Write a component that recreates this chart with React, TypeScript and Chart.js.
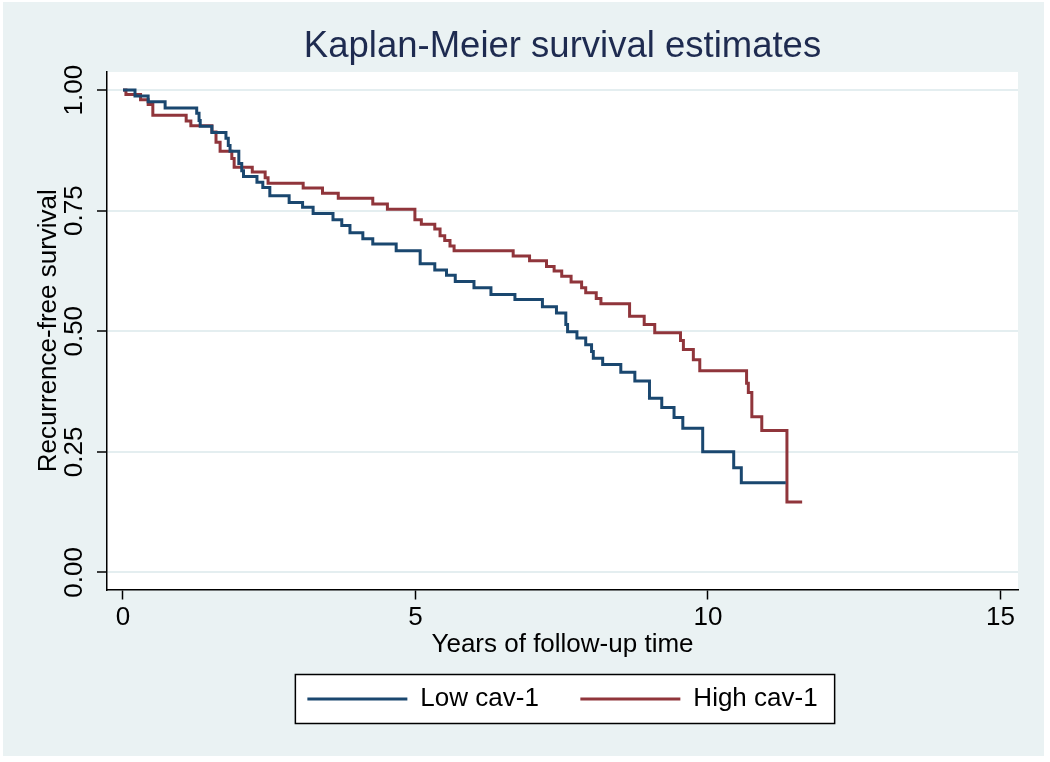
import React, { useEffect, useRef } from "react";
import { Chart, registerables } from "chart.js";

Chart.register(...registerables);

const titleText = "Kaplan-Meier survival estimates";
const xTitle = "Years of follow-up time";
const yTitle = "Recurrence-free survival";
const xTicks = [0, 5, 10, 15];
const yTicks = [0, 0.25, 0.5, 0.75, 1.0];
const seriesNames = ["Low cav-1", "High cav-1"];

const lowTimes = [0, 0.205, 0.43, 0.72, 1.26, 1.30, 1.32, 1.52, 1.76, 1.80, 1.83, 1.98, 2.03, 2.06, 2.29, 2.39, 2.51, 2.84, 3.07, 3.25, 3.59, 3.74, 3.88, 4.10, 4.27, 4.67, 5.08, 5.33, 5.53, 5.68, 6.00, 6.29, 6.70, 7.17, 7.41, 7.57, 7.60, 7.76, 7.91, 8.01, 8.04, 8.20, 8.51, 8.75, 9.00, 9.21, 9.42, 9.57, 9.91, 10.44, 10.57, 11.33];
const lowSurv = [1.0, 0.988, 0.976, 0.963, 0.952, 0.937, 0.925, 0.912, 0.900, 0.885, 0.873, 0.848, 0.833, 0.821, 0.809, 0.798, 0.781, 0.767, 0.757, 0.744, 0.731, 0.719, 0.704, 0.692, 0.681, 0.667, 0.640, 0.627, 0.616, 0.603, 0.590, 0.576, 0.566, 0.551, 0.538, 0.514, 0.499, 0.486, 0.472, 0.458, 0.444, 0.431, 0.415, 0.397, 0.361, 0.342, 0.321, 0.299, 0.250, 0.217, 0.186, 0.186];

const highTimes = [0, 0.05, 0.30, 0.43, 0.51, 1.08, 1.16, 1.52, 1.59, 1.66, 1.86, 1.90, 2.21, 2.43, 2.48, 3.08, 3.41, 3.68, 4.27, 4.52, 4.99, 5.10, 5.33, 5.42, 5.50, 5.59, 5.66, 6.67, 6.95, 7.24, 7.37, 7.50, 7.66, 7.84, 7.91, 8.09, 8.17, 8.66, 8.91, 9.09, 9.53, 9.58, 9.75, 9.86, 10.66, 10.69, 10.75, 10.92, 11.35, 11.61];
const highSurv = [1.0, 0.991, 0.980, 0.970, 0.948, 0.936, 0.926, 0.913, 0.892, 0.873, 0.858, 0.840, 0.830, 0.818, 0.807, 0.797, 0.786, 0.776, 0.764, 0.753, 0.731, 0.722, 0.712, 0.698, 0.688, 0.677, 0.667, 0.656, 0.646, 0.634, 0.625, 0.614, 0.602, 0.590, 0.580, 0.568, 0.557, 0.531, 0.514, 0.497, 0.481, 0.462, 0.441, 0.418, 0.392, 0.373, 0.323, 0.294, 0.146, 0.146];

const FONT = "'Liberation Sans', Arial, sans-serif";
const BG = "#eaf2f3";

const bgPlugin = {
  id: "stataBg",
  beforeDraw(chart: any) {
    const { ctx, chartArea, width, height } = chart;
    ctx.save();
    ctx.fillStyle = "#ffffff";
    ctx.fillRect(0, 0, width, height);
    ctx.fillStyle = BG;
    ctx.fillRect(3, 2, 1041, 754);
    ctx.fillStyle = "#ffffff";
    ctx.fillRect(chartArea.left, chartArea.top, chartArea.right - chartArea.left, chartArea.bottom - chartArea.top);
    const lg = chart.legend;
    if (lg && lg.legendHitBoxes && lg.legendHitBoxes.length) {
      const hb = lg.legendHitBoxes;
      let l = Infinity, r = -Infinity, t = Infinity, b = -Infinity;
      hb.forEach((h: any) => {
        l = Math.min(l, h.left);
        r = Math.max(r, h.left + h.width);
        t = Math.min(t, h.top);
        b = Math.max(b, h.top + h.height);
      });
      const x0 = l - 12, x1 = r + 17, y0 = t - 11.5, y1 = b + 11.5;
      ctx.fillStyle = "#ffffff";
      ctx.fillRect(x0, y0, x1 - x0, y1 - y0);
      ctx.strokeStyle = "#000000";
      ctx.lineWidth = 1.5;
      ctx.strokeRect(x0, y0, x1 - x0, y1 - y0);
    }
    ctx.restore();
  },
};

export default function App() {
  const ref = useRef<HTMLCanvasElement | null>(null);
  useEffect(() => {
    document.body.style.margin = "0";
    const canvas = ref.current;
    if (!canvas) return;
    const chart = new Chart(canvas, {
      type: "line",
      data: {
        datasets: [
          {
            label: seriesNames[0],
            data: lowTimes.map((t, i) => ({ x: t, y: lowSurv[i] })),
            borderColor: "#1a476f",
            backgroundColor: "#1a476f",
            borderWidth: 3,
            stepped: true,
            pointRadius: 0,
            fill: false,
          },
          {
            label: seriesNames[1],
            data: highTimes.map((t, i) => ({ x: t, y: highSurv[i] })),
            borderColor: "#90353b",
            backgroundColor: "#90353b",
            borderWidth: 3,
            stepped: true,
            pointRadius: 0,
            fill: false,
          },
        ],
      },
      options: {
        responsive: false,
        animation: false,
        devicePixelRatio: 1,
        layout: { padding: { left: 0, right: 32, top: 0, bottom: 40 } },
        plugins: {
          title: {
            display: true,
            text: titleText,
            fullSize: false,
            color: "#1e2b50",
            font: { family: FONT, size: 36.5, weight: "normal" },
            padding: { top: 25, bottom: 3.2 },
          },
          legend: {
            display: true,
            position: "bottom",
            fullSize: false,
            maxHeight: 80,
            labels: {
              color: "#000000",
              font: { family: FONT, size: 26 },
              usePointStyle: true,
              pointStyle: "line",
              pointStyleWidth: 100,
              padding: 41.5,
            },
          },
          tooltip: { enabled: false },
        },
        scales: {
          x: {
            type: "linear",
            min: -0.2735,
            max: 15.3,
            afterBuildTicks: (s: any) => {
              s.ticks = xTicks.map((v) => ({ value: v }));
            },
            afterFit: (s: any) => {
              s.height = 55;
            },
            grid: {
              drawOnChartArea: false,
              drawTicks: true,
              tickLength: 10,
              tickColor: "#000000",
              tickWidth: 1.5,
            },
            border: { display: true, color: "#000000", width: 1.5 },
            ticks: {
              color: "#000000",
              font: { family: FONT, size: 26 },
              padding: 3,
              maxRotation: 0,
              autoSkip: false,
              callback: (v: any) => String(v),
            },
            title: {
              display: true,
              text: xTitle,
              color: "#000000",
              font: { family: FONT, size: 26 },
              padding: { top: 0, bottom: -15.6 },
            },
          },
          y: {
            type: "linear",
            min: -0.0354,
            max: 1.0375,
            afterBuildTicks: (s: any) => {
              s.ticks = yTicks.map((v) => ({ value: v }));
            },
            afterFit: (s: any) => {
              s.width = 107;
            },
            grid: {
              drawOnChartArea: true,
              color: "#e4eef0",
              lineWidth: 2,
              drawTicks: true,
              tickLength: 10,
              tickColor: "#000000",
              tickWidth: 1.5,
            },
            border: { display: true, color: "#000000", width: 1.5 },
            ticks: {
              color: "#000000",
              font: { family: FONT, size: 26 },
              padding: -3,
              minRotation: 90,
              maxRotation: 90,
              crossAlign: "center",
              autoSkip: false,
              callback: (v: any) => Number(v).toFixed(2),
            },
            title: {
              display: true,
              text: yTitle,
              color: "#000000",
              font: { family: FONT, size: 26 },
              padding: { top: 33, bottom: 0 },
            },
          },
        },
      },
      plugins: [bgPlugin],
    } as any);
    return () => chart.destroy();
  }, []);
  return (
    <div style={{ position: "absolute", left: 0, top: 0, width: 1050, height: 762 }}>
      <canvas ref={ref} width={1050} height={762} style={{ display: "block", width: 1050, height: 762 }} />
    </div>
  );
}
